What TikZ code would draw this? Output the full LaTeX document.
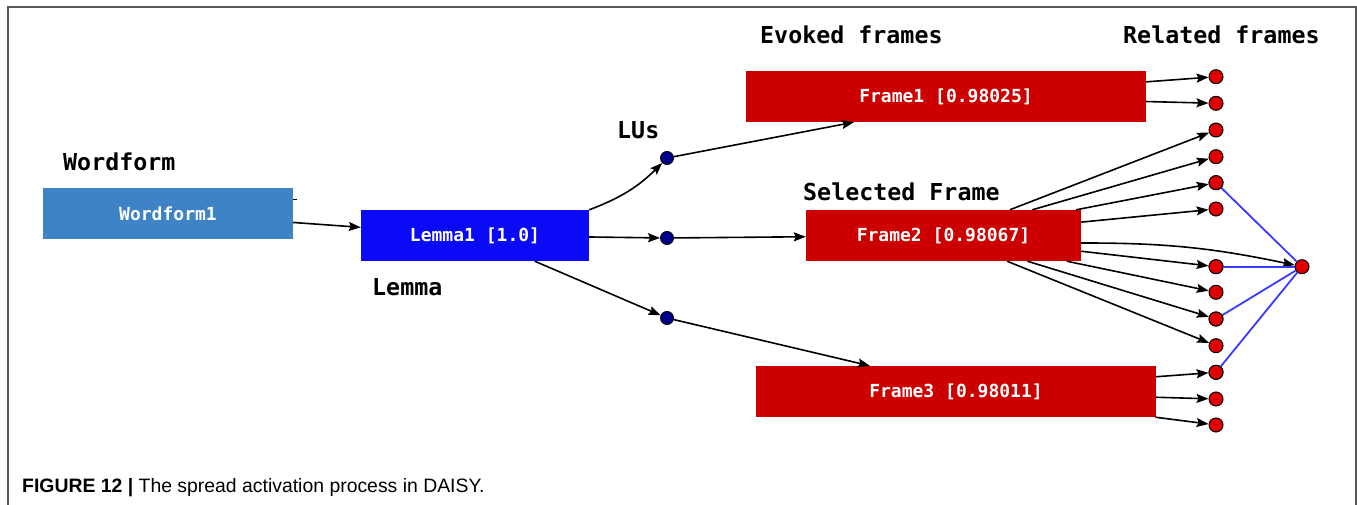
\documentclass[tikz,border=0pt]{standalone}
\usepackage{fontspec}
\setmainfont{Liberation Sans}
\newfontfamily\monofont{DejaVu Sans Mono}
\usetikzlibrary{arrows.meta,calc}
\definecolor{wfblue}{HTML}{3F83C7}
\definecolor{lemblue}{HTML}{0A0AF8}
\definecolor{framered}{HTML}{CC0000}
\definecolor{relred}{HTML}{E00000}
\definecolor{navy}{HTML}{000088}
\definecolor{blueline}{HTML}{3A3AFF}
\definecolor{framegray}{HTML}{5A5A5A}
\begin{document}
\begin{tikzpicture}[x=1pt,y=-1pt,
  box/.style={rectangle, minimum height=51pt, inner sep=0pt, text=white,
    font=\monofont\bfseries\fontsize{18}{20}\selectfont},
  lbl/.style={anchor=base west, inner sep=0pt, text=black,
    font=\monofont\bfseries\fontsize{23.3}{26}\selectfont},
  lu/.style={circle, draw=black, fill=navy, minimum size=13pt, inner sep=0pt, line width=0.9pt},
  rel/.style={circle, draw=black, fill=relred, minimum size=14pt, inner sep=0pt, line width=1pt},
  arr/.style={-{Stealth[length=12pt,width=9pt,inset=2pt]}, line width=1.6pt},
  bl/.style={draw=blueline, line width=1.8pt}]
\useasboundingbox (0,0) rectangle (1357,505);
% frame
\draw[framegray, line width=1.8pt] (8,505) -- (8,7) -- (1356,7) -- (1356,505);

% labels
\node[lbl] (lwf) at (63,171) {Wordform};
\node[lbl] (lev) at (760,44) {Evoked frames};
\node[lbl] (lrel) at (1123,44) {Related frames};
\node[lbl] (llu) at (617,139) {LUs};
\node[lbl] (lsel) at (803,201) {Selected Frame};
\node[lbl] (llem) at (372,295) {Lemma};

% boxes
\node[box, fill=wfblue, minimum width=250pt] (wf) at (168,213.5) {Wordform1};
\node[box, fill=lemblue, minimum width=228pt] (lem) at (475,235.5) {Lemma1 [1.0]};
\node[box, fill=framered, minimum width=400pt] (f1) at (946,96.5) {Frame1 [0.98025]};
\node[box, fill=framered, minimum width=275pt] (f2) at (943.5,235.5) {Frame2 [0.98067]};
\node[box, fill=framered, minimum width=400pt] (f3) at (956,391.5) {Frame3 [0.98011]};

% LU nodes
\node[lu] (u1) at (667,158) {};
\node[lu] (u2) at (667,238) {};
\node[lu] (u3) at (667,318) {};

% related frame nodes
\foreach \n/\y in {1/76.7,2/103.3,3/130,4/156.7,5/182.7,6/209,7/266.7,8/292.3,9/319,10/345.7,11/372.3,12/399,13/425}
  \node[rel] (r\n) at (1216,\y) {};
\node[rel] (far) at (1302,266.7) {};

% small tick
\coordinate (tk) at ($(wf.north east)+(0,12)$);
\draw[line width=1.4pt] (tk) -- ++(4,0);

% connectors
\draw[arr] (wf) -- (lem);
\draw[arr] (lem.north east) to[bend right=12] (u1);
\draw[arr] (lem) -- (u2);
\draw[arr] (lem) -- (u3);
\draw[arr] (u1) -- ($(f1.south west)!0.27!(f1.south east)$);
\draw[arr] (u2) -- (f2);
\draw[arr] (u3) -- ($(f3.north west)!0.285!(f3.north east)$);

\draw[arr] (f1) -- (r1);
\draw[arr] (f1) -- (r2);
\foreach \n in {3,4,5,6,7,8,9,10}
  \draw[arr] (f2) -- (r\n);
\draw[arr] ($(f2.east)+(0,7.5)$) to[bend left=6] (far);
\draw[arr] (f3) -- (r11);
\draw[arr] (f3) -- (r12);
\draw[arr] (f3) -- (r13);

% blue links
\foreach \n in {5,7,9,11}
  \draw[bl] (r\n) -- (far);
% redraw nodes on top
\foreach \n/\y in {5/182.7,7/266.7,9/319,11/372.3}
  \node[rel] at (1216,\y) {};

% caption
\node[anchor=base west, inner sep=0pt] (cap) at (22,492)
  {\fontsize{19.4}{21}\selectfont\textbf{FIGURE 12 |} The spread activation process in DAISY.};
\end{tikzpicture}
\end{document}
